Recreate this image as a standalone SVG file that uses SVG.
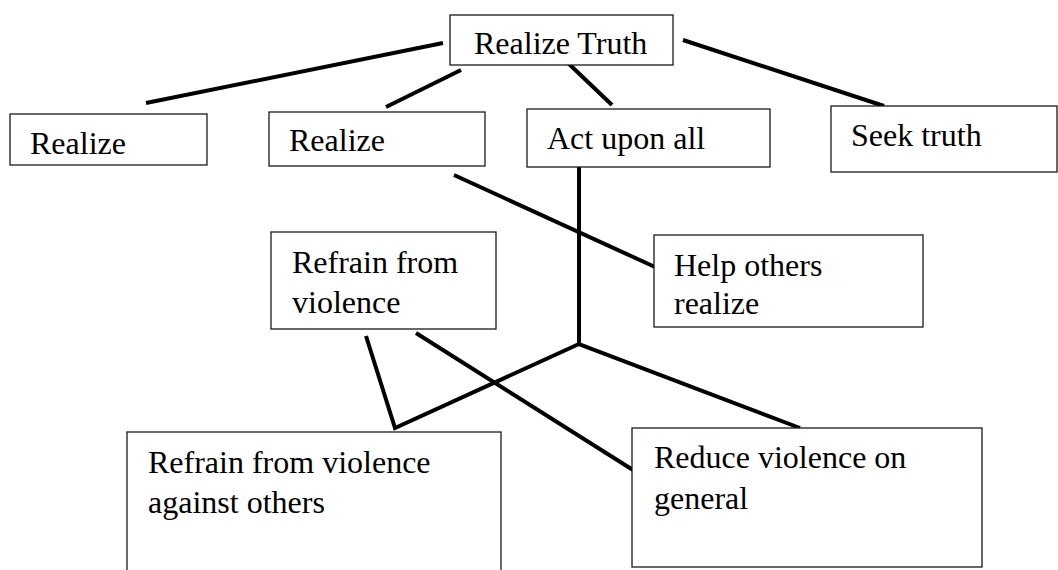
<svg xmlns="http://www.w3.org/2000/svg" width="1058" height="570" viewBox="0 0 1058 570">
  <style>
    .box { fill: #ffffff; stroke: #1a1a1a; stroke-width: 1.3; }
    .lbl { font-family: "Liberation Serif", "Times New Roman", serif; font-size: 32px; fill: #000000; }
    .con { fill: none; stroke: #000000; stroke-width: 4; stroke-linejoin: miter; stroke-linecap: butt; }
  </style>
  <rect x="0" y="0" width="1058" height="570" fill="#ffffff"/>
  <g id="connectors">
    <line class="con" x1="443" y1="43" x2="146" y2="103"/>
    <line class="con" x1="461" y1="70" x2="386" y2="107"/>
    <line class="con" x1="568" y1="63" x2="612" y2="105"/>
    <line class="con" x1="683" y1="40" x2="884" y2="106"/>
    <line class="con" x1="454" y1="175" x2="655" y2="267"/>
    <polyline class="con" points="579,167 579,344 800,428"/>
    <polyline class="con" points="366,336 395,428 579,344"/>
    <line class="con" x1="416" y1="333" x2="633" y2="470"/>
  </g>
  <g id="node-realize-truth">
    <rect class="box" x="450" y="15" width="223" height="50"/>
    <text class="lbl" x="474" y="54">Realize Truth</text>
  </g>
  <g id="node-realize-1">
    <rect class="box" x="10" y="114" width="197" height="51"/>
    <text class="lbl" x="30" y="154">Realize</text>
  </g>
  <g id="node-realize-2">
    <rect class="box" x="269" y="112" width="216" height="54"/>
    <text class="lbl" x="289" y="151">Realize</text>
  </g>
  <g id="node-act-upon-all">
    <rect class="box" x="527" y="109" width="243" height="58"/>
    <text class="lbl" x="547" y="149">Act upon all</text>
  </g>
  <g id="node-seek-truth">
    <rect class="box" x="831" y="106" width="226" height="66"/>
    <text class="lbl" x="851" y="146">Seek truth</text>
  </g>
  <g id="node-refrain">
    <rect class="box" x="271" y="232" width="225" height="97"/>
    <text class="lbl" x="292" y="273">Refrain from</text>
    <text class="lbl" x="292" y="313">violence</text>
  </g>
  <g id="node-help-others">
    <rect class="box" x="654" y="235" width="269" height="92"/>
    <text class="lbl" x="674" y="276">Help others</text>
    <text class="lbl" x="674" y="314">realize</text>
  </g>
  <g id="node-refrain-against-others">
    <rect class="box" x="127" y="432" width="374" height="150"/>
    <text class="lbl" x="148" y="473">Refrain from violence</text>
    <text class="lbl" x="148" y="513">against others</text>
  </g>
  <g id="node-reduce-violence">
    <rect class="box" x="632" y="428" width="350" height="139"/>
    <text class="lbl" x="654" y="468">Reduce violence on</text>
    <text class="lbl" x="654" y="509">general</text>
  </g>
</svg>
